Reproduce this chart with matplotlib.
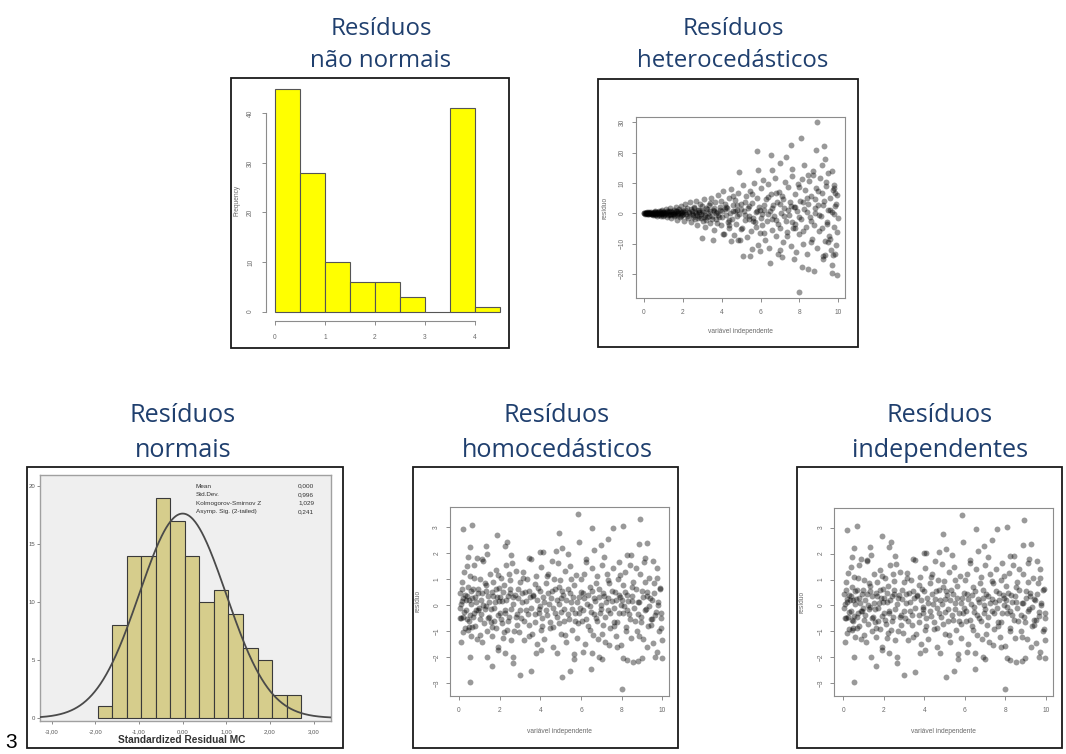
from __future__ import annotations

import matplotlib

matplotlib.use("Agg")
import matplotlib.pyplot as plt
import numpy as np
from matplotlib.patches import Rectangle

W, H = 1066, 754
TITLE_COLOR = "#1f3f6e"
R_GRAY = "#8c8c8c"
R_TEXT = "#6a6a6a"

# ---- Resíduos não normais (histograma R) ----
skew_edges = [0.0, 0.5, 1.0, 1.5, 2.0, 2.5, 3.0, 3.5, 4.0, 4.5]
skew_counts = [45, 28, 10, 6, 6, 3, 0, 41, 1]
skew_xticks = [0, 1, 2, 3, 4]
skew_yticks = [0, 10, 20, 30, 40]

# ---- Resíduos normais (histograma SPSS) ----
norm_edges = [-1.95, -1.617, -1.283, -0.95, -0.617, -0.283, 0.05, 0.383,
              0.717, 1.05, 1.383, 1.717, 2.05, 2.383, 2.717]
norm_counts = [1, 8, 14, 14, 19, 17, 14, 10, 11, 9, 6, 5, 2, 2]
norm_mean = 0.0
norm_sd = 0.996
norm_xticks = [-3, -2, -1, 0, 1, 2, 3]
norm_xticklabels = ["-3,00", "-2,00", "-1,00", "0,00", "1,00", "2,00", "3,00"]
norm_yticks = [0, 5, 10, 15, 20]
stat_names = ["Mean", "Std.Dev.", "Kolmogorov-Smirnov Z", "Asymp. Sig. (2-tailed)"]
stat_values = ["0,000", "0,996", "1,029", "0,241"]

# ---- Resíduos heterocedásticos ----
het_x = [
    0.02, 0.05, 0.08, 0.10, 0.13, 0.16, 0.19, 0.22, 0.25, 0.28,
    0.31, 0.34, 0.37, 0.40, 0.43, 0.46, 0.49, 0.52, 0.55, 0.58,
    0.61, 0.64, 0.67, 0.70, 0.73, 0.76, 0.79, 0.82, 0.85, 0.88,
    0.91, 0.94, 0.97, 1.00, 1.04, 1.08, 1.12, 1.16, 1.20, 1.24,
    1.28, 1.32, 1.36, 1.40, 1.44, 1.48, 1.52, 1.56, 1.60, 1.64,
    1.68, 1.72, 1.76, 1.80, 1.84, 1.88, 1.92, 1.96, 2.00, 2.05,
    2.10, 2.15, 2.20, 2.25, 2.30, 2.35, 2.40, 2.45, 2.50, 2.55,
    2.60, 2.65, 2.70, 2.75, 2.80, 2.85, 2.90, 2.95, 3.00, 3.05,
    3.10, 3.15, 3.20, 3.25, 3.30, 3.35, 3.40, 3.45, 3.50, 3.55,
    3.60, 3.65, 3.70, 3.75, 3.80, 3.85, 3.90, 3.95, 4.00, 4.05,
    4.10, 4.15, 4.20, 4.25, 4.30, 4.35, 4.40, 4.45, 4.50, 4.55,
    4.60, 4.65, 4.70, 4.75, 4.80, 4.85, 4.90, 4.95, 5.00, 5.05,
    5.10, 5.15, 5.20, 5.25, 5.30, 5.35, 5.40, 5.45, 5.50, 5.55,
    5.60, 5.65, 5.70, 5.75, 5.80, 5.85, 5.90, 5.95, 6.00, 6.05,
    6.10, 6.15, 6.20, 6.25, 6.30, 6.35, 6.40, 6.45, 6.50, 6.55,
    6.60, 6.65, 6.70, 6.75, 6.80, 6.85, 6.90, 6.95, 7.00, 7.05,
    7.10, 7.15, 7.20, 7.25, 7.30, 7.35, 7.40, 7.45, 7.50, 7.55,
    7.60, 7.65, 7.70, 7.75, 7.80, 7.85, 7.90, 7.95, 8.00, 8.05,
    8.10, 8.15, 8.20, 8.25, 8.30, 8.35, 8.40, 8.45, 8.50, 8.55,
    8.60, 8.65, 8.70, 8.75, 8.80, 8.85, 8.90, 8.95, 9.00, 9.05,
    9.10, 9.15, 9.20, 9.25, 9.30, 9.35, 9.40, 9.45, 9.50, 9.55,
    9.60, 9.65, 9.70, 9.75, 9.80, 9.85, 9.90, 9.95, 9.98, 0.00,
    0.03, 0.09, 0.15, 0.21, 0.27, 0.33, 0.39, 0.45, 0.51, 0.57,
    0.63, 0.69, 0.75, 0.81, 0.87, 0.93, 0.99, 1.05, 1.11, 1.17,
    1.23, 1.29, 1.35, 1.41, 1.47, 1.53, 1.59, 1.65, 1.71, 1.77,
    1.83, 1.89, 1.95, 2.02, 2.12, 2.22, 2.32, 2.42, 2.52, 2.62,
    2.72, 2.82, 2.92, 3.02, 3.12, 3.22, 3.32, 3.42, 3.52, 3.62,
    3.72, 3.82, 3.92, 4.02, 4.20, 4.40, 4.60, 4.80, 5.00, 5.20,
    5.40, 5.60, 5.80, 6.00, 6.20, 6.40, 6.60, 6.80, 7.00, 7.20,
    7.40, 7.60, 7.80, 8.00, 8.20, 8.40, 8.60, 8.80, 9.00, 9.20,
    9.40, 9.60, 9.80, 9.90, 1.02, 1.38, 1.74, 2.08, 2.46, 2.84,
    2.58, 2.78, 2.98, 3.18, 3.38, 3.58, 3.78, 3.98, 4.18, 4.38,
    4.58, 4.78, 4.98, 5.18, 5.38, 5.58, 5.78, 5.98, 6.18, 6.38,
    6.58, 6.78, 6.98, 7.18, 7.38, 7.58, 7.78, 7.98, 8.18, 8.38,
    8.58, 8.78, 8.98, 9.18, 9.38, 9.58, 9.78, 9.92, 3.08, 4.68,
    8.89, 8.06, 7.56, 9.25, 8.85, 5.83, 6.54, 7.31, 9.31, 7.00,
    8.25, 9.19, 7.62, 5.88, 4.89, 6.60, 8.71, 9.66, 8.46, 9.76,
    9.83, 7.99, 9.95, 9.66, 8.75, 8.46, 8.15, 6.50, 5.44, 5.08,
    3.55, 3.00, 6.88, 7.08, 9.66, 9.74, 9.86, 9.23, 7.74, 5.57,
    5.97, 4.48, 4.85, 4.08, 9.31, 9.49,
]
het_y = [
    0.1, -0.1, 0.2, -0.05, 0.0, 0.3, -0.25, 0.1, -0.4, 0.35,
    0.0, -0.3, 0.5, -0.1, 0.2, -0.6, 0.4, 0.05, -0.45, 0.7,
    -0.2, 0.25, -0.8, 0.5, -0.05, 0.9, -0.55, 0.2, -1.0, 0.6,
    -0.3, 1.2, 0.0, -0.9, 0.45, -0.2, 1.4, -1.3, 0.3, -0.6,
    0.9, -0.1, 1.8, -1.6, 0.5, -0.4, 1.2, -0.9, 0.2, 2.0,
    -2.2, 0.7, -0.3, 1.5, -1.1, 0.1, 2.4, -0.7, 0.9, -2.6,
    3.1, -0.2, 1.6, -1.5, 0.4, 3.6, -3.0, 0.8, -0.5, 2.2,
    -2.0, 4.2, 0.2, -3.8, 1.2, -1.0, 3.0, -0.3, 0.6, -2.6,
    4.6, -4.6, 1.8, -1.4, 0.0, 2.8, -3.2, 5.2, -0.8, 1.0,
    -5.6, 3.6, -2.0, 0.4, 6.0, -1.2, 2.2, -4.0, 0.8, 7.4,
    -6.8, 3.2, -0.5, 1.6, -2.8, 5.0, -5.0, 0.2, 8.0, -1.8,
    2.6, -7.2, 4.4, -3.6, 1.0, 6.6, -0.4, -9.0, 3.0, -4.8,
    9.4, 0.6, -2.2, 5.6, -8.0, 1.8, -0.9, 7.2, -5.8, 3.4,
    -1.6, 10.0, -3.0, 0.4, 5.0, -10.5, 2.0, -6.6, 8.4, -0.2,
    -4.0, 11.0, 1.2, -8.8, 4.6, -2.4, 9.6, -11.4, 0.8, 6.4,
    -5.4, 2.8, -1.0, 11.8, -7.6, 3.8, -3.4, 7.0, -12.0, 0.0,
    5.6, -9.6, 1.6, 10.4, -2.6, -6.2, 8.6, -0.6, 3.6, -10.8,
    12.4, -4.8, 2.0, -5.0, 6.2, -12.8, 0.6, 9.8, -7.0, 4.2,
    -2.0, 11.2, -10.0, 1.4, 7.6, -4.4, -13.6, 3.0, 10.6, -1.2,
    5.8, -8.6, 12.8, -3.8, 0.2, 8.2, -11.6, 2.6, -6.0, 11.8,
    -0.8, 6.8, -14.0, 4.0, -9.2, 9.0, -2.8, 1.0, 13.2, -7.4,
    5.2, -12.2, 0.4, 7.8, -4.6, 2.4, -10.4, 6.0, -1.6, 0.0,
    0.0, 0.05, -0.1, 0.15, -0.05, 0.2, -0.2, 0.1, -0.15, 0.25,
    -0.3, 0.1, -0.2, 0.35, -0.35, 0.15, 0.45, -0.5, 0.1, 0.6,
    -0.3, 0.25, -0.7, 0.8, -0.1, 0.35, -0.6, 0.9, -0.5, 0.0,
    0.6, -0.9, 0.3, -0.4, 1.1, -0.9, 0.2, 1.4, -1.2, 0.5,
    -0.7, 1.0, -1.5, 0.3, -0.6, 1.3, -1.0, 0.6, -1.8, 1.6,
    0.0, -0.5, 1.0, -1.4, 2.0, -2.2, 0.6, -1.0, 1.4, -0.6,
    2.4, -2.6, 0.8, -1.6, 2.8, -0.4, 1.6, -2.2, 3.2, -0.8,
    1.0, -3.0, 2.2, -1.4, 3.6, 0.4, -2.6, 1.8, -0.6, 2.8,
    -3.4, 1.2, -0.2, 3.0, 0.2, -0.2, 0.4, 0.5, -0.4, 0.3,
    1.8, -1.6, 2.4, -2.2, 3.4, 0.6, -3.2, 4.2, 1.4, -3.8,
    5.6, 2.8, -5.2, 3.8, -2.0, 6.2, -4.4, 1.0, -6.4, 5.4,
    -1.8, 6.8, -5.0, 4.8, -7.6, 2.4, -3.6, 8.8, -6.0, 5.0,
    -9.6, 4.6, 7.2, -4.8, 10.2, -8.4, 9.4, -6.2, -1.2, 0.6,
    30.0, 25.0, 22.6, 22.2, 20.9, 20.6, 19.3, 18.7, 18.0, 16.7,
    15.9, 16.1, 14.7, 14.2, 13.7, 14.4, 13.9, 13.9, 12.8, 8.3,
    6.7, -25.9, -20.3, -19.9, -19.0, -18.3, -17.7, -16.3, -14.2, -14.1,
    -8.9, -8.3, -13.3, -14.4, -17.2, -13.7, -13.3, -15.2, -15.0, -11.7,
    -12.6, -9.2, -8.9, -7.0, -13.9, -9.4,
]
het_xticks = [0, 2, 4, 6, 8, 10]
het_yticks = [-20, -10, 0, 10, 20, 30]

# ---- Resíduos homocedásticos / independentes (mesmo gráfico) ----
hom_x = [
    0.05, 0.08, 0.10, 0.12, 0.15, 0.18, 0.20, 0.22, 0.25, 0.28,
    0.30, 0.33, 0.36, 0.40, 0.42, 0.45, 0.48, 0.50, 0.53, 0.55,
    0.58, 0.60, 0.63, 0.66, 0.70, 0.73, 0.76, 0.80, 0.84, 0.88,
    0.90, 0.94, 0.98, 1.02, 1.05, 1.10, 1.13, 1.17, 1.20, 1.24,
    1.28, 1.32, 1.36, 1.40, 1.44, 1.48, 1.52, 1.56, 1.60, 1.64,
    1.68, 1.72, 1.76, 1.80, 1.84, 1.88, 1.92, 1.96, 2.00, 2.05,
    2.10, 2.14, 2.18, 2.22, 2.26, 2.30, 2.35, 2.40, 2.44, 2.48,
    2.52, 2.56, 2.60, 2.65, 2.70, 2.75, 2.80, 2.85, 2.90, 2.95,
    3.00, 3.05, 3.10, 3.15, 3.20, 3.25, 3.30, 3.36, 3.42, 3.48,
    3.54, 3.60, 3.66, 3.72, 3.78, 3.84, 3.90, 3.96, 4.02, 4.08,
    4.14, 4.20, 4.26, 4.32, 4.38, 4.44, 4.50, 4.56, 4.62, 4.68,
    4.74, 4.80, 4.86, 4.92, 4.98, 5.04, 5.10, 5.16, 5.22, 5.28,
    5.34, 5.40, 5.46, 5.52, 5.58, 5.64, 5.70, 5.76, 5.82, 5.88,
    5.94, 6.00, 6.06, 6.12, 6.18, 6.24, 6.30, 6.36, 6.42, 6.48,
    6.54, 6.60, 6.66, 6.72, 6.78, 6.84, 6.90, 6.96, 7.02, 7.08,
    7.14, 7.20, 7.26, 7.32, 7.38, 7.44, 7.50, 7.56, 7.62, 7.68,
    7.74, 7.80, 7.86, 7.92, 7.98, 8.04, 8.10, 8.16, 8.22, 8.28,
    8.34, 8.40, 8.46, 8.52, 8.58, 8.64, 8.70, 8.76, 8.82, 8.88,
    8.94, 9.00, 9.06, 9.12, 9.18, 9.24, 9.30, 9.36, 9.42, 9.48,
    9.54, 9.60, 9.66, 9.72, 9.78, 9.84, 9.90, 9.95, 9.98, 0.03,
    0.07, 0.17, 0.27, 0.38, 0.47, 0.57, 0.68, 0.78, 0.86, 0.96,
    1.07, 1.15, 1.26, 1.34, 1.42, 1.50, 1.58, 1.66, 1.74, 1.82,
    1.90, 1.98, 2.07, 2.16, 2.24, 2.33, 2.42, 2.50, 2.58, 2.68,
    2.78, 2.88, 2.98, 3.08, 3.18, 3.28, 3.38, 3.46, 3.56, 3.64,
    3.74, 3.82, 3.92, 4.00, 4.10, 4.18, 4.28, 4.36, 4.46, 4.54,
    4.64, 4.72, 4.82, 4.90, 5.00, 5.08, 5.18, 5.26, 5.36, 5.44,
    5.54, 5.62, 5.72, 5.80, 5.90, 5.98, 6.08, 6.16, 6.26, 6.34,
    6.44, 6.52, 6.62, 6.70, 6.80, 6.88, 6.98, 7.06, 7.16, 7.24,
    7.34, 7.42, 7.52, 7.60, 7.70, 7.78, 7.88, 7.96, 8.06, 8.14,
    8.24, 8.32, 8.42, 8.50, 8.60, 8.68, 8.78, 8.86, 8.96, 9.04,
    9.14, 9.22, 9.32, 9.40, 9.50, 9.58, 9.68, 9.76, 9.86, 9.94,
    0.13, 0.43, 0.73, 1.03, 1.33, 1.63, 1.93, 2.23, 2.53, 2.83,
    3.13, 3.43, 3.73, 4.03, 4.33, 4.63, 4.93, 5.23, 5.53, 5.83,
    6.13, 6.43, 6.73, 7.03, 7.33, 7.63, 7.93, 8.23, 8.53, 8.83,
    9.13, 9.43, 9.73, 9.93, 0.93, 2.03, 3.93, 5.03, 6.93, 8.03,
    0.21, 0.66, 1.89, 2.34, 2.26, 5.87, 4.92, 6.54, 7.59, 8.08,
    8.90, 8.87, 9.26, 5.92, 7.34, 6.97, 6.64, 0.54, 1.33, 3.98,
    4.11, 4.75, 5.05, 8.25, 0.54, 8.00, 3.00, 3.52, 5.05, 5.46,
    6.49, 0.54, 1.61, 1.39, 2.67, 2.67, 1.93, 2.26, 3.79, 4.03,
    4.80, 5.66, 5.67, 6.11, 6.52, 6.90, 7.02, 7.39, 7.79, 8.08,
    8.25, 8.54, 8.82, 8.98, 9.64, 9.97, 9.72, 9.26,
    0.45, 1.15, 2.55, 3.45, 4.55, 5.35, 6.25, 7.15, 7.85, 8.45, 9.15, 9.55,
]
hom_y = [
    0.45, -1.42, 0.05, -0.50, 0.60, -1.05, 0.25, -0.45, 1.25, 0.40,
    -0.90, 0.20, -0.20, 1.50, -0.55, 0.70, 0.20, -0.85, 1.10, -0.40,
    0.55, -1.20, 0.25, -0.85, 0.60, -0.30, 1.55, -0.80, 0.10, 1.80,
    -1.30, 0.45, -0.10, 1.00, -0.55, 0.20, -1.40, 1.70, 0.00, -0.70,
    0.85, -0.05, 1.95, -1.00, 0.35, -0.45, 1.20, -0.15, 0.50, -1.20,
    0.90, -0.60, 0.10, 1.35, -0.90, 0.30, -1.60, 0.65, -0.30, 1.05,
    -0.70, 0.15, -1.25, 0.75, -0.20, 1.55, -0.95, 0.35, 1.20, -0.45,
    0.60, -1.35, 1.60, 0.05, -1.00, 0.40, 1.30, -0.35, 0.25, -1.05,
    0.90, -0.50, 0.10, 1.25, -1.35, 0.50, -0.20, 1.00, -0.75, 0.30,
    1.75, -1.10, 0.40, -0.35, 1.10, -1.50, 0.65, -0.05, 1.45, -0.80,
    0.30, -1.30, 0.85, -0.40, 1.20, 0.05, -0.90, 0.55, -1.60, 1.00,
    -0.30, 0.20, 1.60, -0.70, 0.95, -1.10, 0.40, -0.15, 1.30, -1.40,
    0.60, -0.55, 1.50, 0.10, -0.95, 0.75, -0.30, 1.15, -1.25, 0.30,
    -0.10, 1.00, -0.60, 0.45, -1.50, 1.65, 0.05, -0.80, 0.70, -0.25,
    1.40, -1.15, 0.25, -0.50, 1.10, -1.30, 0.60, 0.00, 1.55, -0.75,
    0.35, -1.40, 1.20, -0.20, 0.85, -0.90, 0.15, 1.40, -0.65, 0.50,
    -1.20, 1.00, -0.30, 0.30, -1.55, 0.75, -0.05, 1.25, -0.85, 0.40,
    -0.35, 1.55, -1.25, 0.15, 0.90, -0.60, 1.40, -1.00, 0.10, 1.20,
    -0.45, 0.55, -1.30, 1.65, -0.15, 0.35, -0.80, 1.05, -0.55, 0.20,
    -1.45, 0.85, -0.40, 1.40, 0.00, -1.00, 0.65, -0.30, -1.35, -0.10,
    -0.48, 0.15, -0.25, 0.35, -0.60, 0.05, -0.45, 0.30, -0.20, 0.60,
    -0.35, 0.45, -0.15, 0.55, -0.50, 0.10, -0.65, 0.35, -0.10, 0.60,
    -0.40, 0.15, -0.55, 0.50, -0.30, 0.20, -0.60, 0.45, -0.15, 0.30,
    -0.45, 0.60, -0.20, 0.45, -0.60, 0.15, -0.35, 0.55, -0.10, 0.35,
    -0.65, 0.20, -0.30, 0.55, -0.50, 0.10, -0.20, 0.45, -0.65, 0.25,
    -0.10, 0.60, -0.45, 0.05, -0.25, 0.55, -0.60, 0.20, -0.35, 0.45,
    -0.15, 0.30, -0.60, 0.10, -0.30, 0.50, -0.20, 0.25, -0.55, 0.40,
    -0.05, 0.55, -0.35, 0.15, -0.60, 0.30, -0.15, 0.45, -0.45, 0.10,
    0.25, -0.30, 0.55, -0.10, 0.20, -0.65, 0.40, 0.00, -0.30, 0.50,
    -0.20, 0.15, -0.55, 0.35, -0.10, 0.60, -0.35, 0.10, -0.65, 0.30,
    -0.20, 0.50, -0.05, 0.25, -0.55, 0.45, -0.25, 0.10, 0.60, -0.50,
    0.90, -0.95, 1.05, -1.15, 0.75, -0.85, 1.15, -1.05, 0.95, -0.75,
    1.05, -1.20, 0.80, -0.95, 1.10, -0.85, 0.70, -1.15, 1.00, -0.70,
    1.20, -0.95, 0.85, -1.10, 0.95, -0.80, 1.15, -1.00, 0.70, -1.20,
    0.90, -0.75, 1.05, -0.90, -0.20, 0.30, -0.15, 0.25, -0.30, 0.20,
    2.91, 3.07, 2.68, 2.43, 2.26, 3.49, 2.77, 2.94, 2.94, 3.04,
    3.29, 2.34, 2.36, 2.43, 2.53, 2.30, 2.11, 2.21, 2.26, 2.04,
    2.04, 2.08, 2.17, 1.92, -2.96, -3.23, -2.68, -2.55, -2.75, -2.52,
    -2.46, -2.00, -2.34, -2.00, -2.00, -2.23, -1.72, -1.83, -1.83, -1.72,
    -1.85, -1.88, -2.08, -1.79, -1.83, -1.98, -2.08, -1.53, -1.60, -2.04,
    -2.11, -2.17, -2.15, -2.04, -2.00, -2.04, -1.79, -1.60,
    1.85, 1.75, 1.90, 1.80, 1.70, 1.95, 1.75, 1.85, 1.65, 1.90, 1.80, 1.70,
]
hom_xticks = [0, 2, 4, 6, 8, 10]
hom_yticks = [-3, -2, -1, 0, 1, 2, 3]


def px_axes(fig, left, top, right, bottom):
    return fig.add_axes([left / W, 1 - bottom / H, (right - left) / W, (bottom - top) / H])


def frame(fig, left, top, right, bottom):
    fig.patches.append(
        Rectangle((left / W, 1 - bottom / H), (right - left) / W, (bottom - top) / H,
                  transform=fig.transFigure, fill=False, edgecolor="#1a1a1a",
                  linewidth=1.3, zorder=5)
    )


def ftext(fig, x, y, s, **kw):
    return fig.text(x / W, 1 - y / H, s, **kw)


def title(fig, x, y1, y2, line1, line2, size):
    for y, txt in ((y1, line1), (y2, line2)):
        ftext(fig, x, y, txt, ha="center", va="baseline", fontsize=size,
              color=TITLE_COLOR, family="Open Sans")


def r_axes(ax, xticks, yticks, box=True):
    for side, sp in ax.spines.items():
        sp.set_color(R_GRAY)
        sp.set_linewidth(0.8)
        if not box and side in ("top", "right"):
            sp.set_visible(False)
    ax.set_facecolor("none")
    ax.set_xticks(xticks)
    ax.set_yticks(yticks)
    ax.tick_params(axis="both", direction="out", length=3, width=0.7, color=R_GRAY,
                   labelcolor=R_TEXT, labelsize=4.8)
    ax.tick_params(axis="x", pad=5)
    ax.tick_params(axis="y", pad=4, labelrotation=90)
    for lab in ax.get_yticklabels():
        lab.set_va("center")


def scatter_panel(fig, box, x, y, xlim, ylim, xticks, yticks, ylab_x, xlab_y):
    ax = px_axes(fig, *box)
    ax.scatter(x, y, s=18, color="black", alpha=0.4, linewidths=0)
    ax.set_xlim(*xlim)
    ax.set_ylim(*ylim)
    r_axes(ax, xticks, yticks)
    ax.set_xlabel("variável independente", fontsize=4.8, color=R_TEXT)
    ax.set_ylabel("resíduo", fontsize=4.8, color=R_TEXT)
    ax.yaxis.set_label_coords(ylab_x, 0.5)
    ax.xaxis.set_label_coords(0.5, xlab_y)
    ax.xaxis.label.set_va("center")
    ax.yaxis.label.set_va("center")
    return ax


def main() -> None:
    plt.rcParams["font.family"] = ["Liberation Sans", "DejaVu Sans"]
    fig = plt.figure(figsize=(W / 100, H / 100), dpi=100)
    fig.patch.set_facecolor("white")

    # titles
    title(fig, 381, 35, 67, "Resíduos", "não normais", 17.3)
    title(fig, 733, 35, 67, "Resíduos", "heterocedásticos", 17.3)
    title(fig, 183, 422, 457, "Resíduos", "normais", 18.2)
    title(fig, 557, 422, 457, "Resíduos", "homocedásticos", 18.2)
    title(fig, 940, 422, 457, "Resíduos", "independentes", 18.2)

    # panel frames
    frame(fig, 231, 78, 509, 348)
    frame(fig, 598, 79, 858, 347)
    frame(fig, 27, 467, 343, 748)
    frame(fig, 413, 467, 678, 748)
    frame(fig, 797, 467, 1062, 748)

    # não normais: R histogram
    ax1 = px_axes(fig, 266, 79.6, 509, 320.6)
    ax1.bar(skew_edges[:-1], skew_counts, width=np.diff(skew_edges), align="edge",
            color="#ffff00", edgecolor="#555555", linewidth=0.8)
    ax1.set_xlim(-0.18, 4.68)
    ax1.set_ylim(-1.8, 46.8)
    r_axes(ax1, skew_xticks, skew_yticks, box=False)
    ax1.spines["left"].set_bounds(0, 40)
    ax1.spines["bottom"].set_bounds(0, 4)
    ax1.tick_params(axis="x", pad=6.5)
    ax1.tick_params(axis="y", pad=5.5)
    ax1.set_ylabel("Frequency", fontsize=4.8, color=R_TEXT)
    ax1.yaxis.set_label_coords(-0.119, 0.5)
    ax1.yaxis.label.set_va("center")

    # heterocedásticos
    scatter_panel(fig, (635.7, 117.3, 845, 297.7), het_x, het_y, (-0.43, 10.35), (-27.9, 31.7),
                  het_xticks, het_yticks, -0.147, -0.19)

    # homocedásticos and independentes
    scatter_panel(fig, (450, 506.7, 669.3, 696), hom_x, hom_y, (-0.44, 10.34), (-3.49, 3.77),
                  hom_xticks, hom_yticks, -0.146, -0.189)
    scatter_panel(fig, (834.3, 507.7, 1053.3, 696), hom_x, hom_y, (-0.44, 10.37), (-3.49, 3.77),
                  hom_xticks, hom_yticks, -0.146, -0.189)

    # normais: SPSS histogram with normal curve
    ax3 = px_axes(fig, 40, 475, 331, 720.7)
    ax3.set_facecolor("#efefef")
    ax3.bar(norm_edges[:-1], norm_counts, width=np.diff(norm_edges), align="edge",
            color="#d6cd8c", edgecolor="#3a3a3a", linewidth=0.8, zorder=2)
    n_total = sum(norm_counts)
    bin_w = (norm_edges[-1] - norm_edges[0]) / len(norm_counts)
    xs = np.linspace(-3.27, 3.40, 400)
    curve = n_total * bin_w / (norm_sd * np.sqrt(2 * np.pi)) * np.exp(-0.5 * ((xs - norm_mean) / norm_sd) ** 2)
    ax3.plot(xs, curve, color="#4a4a4a", linewidth=1.3, zorder=3)
    ax3.set_xlim(-3.27, 3.40)
    ax3.set_ylim(-0.23, 20.95)
    for sp in ax3.spines.values():
        sp.set_color("#a0a0a0")
        sp.set_linewidth(1.0)
    ax3.set_xticks(norm_xticks)
    ax3.set_xticklabels(norm_xticklabels)
    ax3.set_yticks(norm_yticks)
    ax3.tick_params(axis="both", direction="out", length=2, width=0.6, color="#777777",
                    labelcolor="#555555", labelsize=4.3)
    ax3.tick_params(axis="x", pad=4.5)
    ax3.tick_params(axis="y", pad=1.5)

    for i, (name, val) in enumerate(zip(stat_names, stat_values)):
        y = 486 + i * 8.5
        ftext(fig, 196, y, name, ha="left", va="center", fontsize=4.6, color="#333333")
        ftext(fig, 314, y, val, ha="right", va="center", fontsize=4.6, color="#333333")

    ftext(fig, 182, 740, "Standardized Residual MC", ha="center", va="center",
          fontsize=7.3, fontweight="bold", color="#333333")

    ftext(fig, 11, 748, "3", ha="center", va="baseline", fontsize=15, color="black")

    fig.savefig("out.png", dpi=100, facecolor="white")


if __name__ == "__main__":
    main()
